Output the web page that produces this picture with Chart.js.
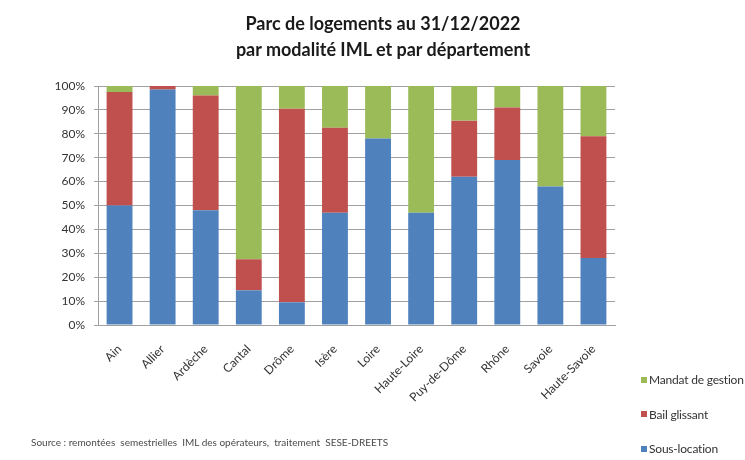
<!DOCTYPE html>
<html lang="fr">
<head>
<meta charset="utf-8">
<title>Parc de logements IML</title>
<script src="https://cdn.jsdelivr.net/npm/chart.js@4/dist/chart.umd.min.js"></script>
<style>
  html, body { margin: 0; padding: 0; background: #fff; }
  #wrap { position: relative; width: 745px; height: 460px; overflow: hidden; font-family: Lato, "Open Sans", sans-serif; }
  #iml-chart { position: absolute; left: 0; top: 0; }
  #title {
    position: absolute; left: 223px; width: 320px; top: 10px;
    text-align: center; font-weight: bold; font-size: 18px; line-height: 26px; color: #1a1a1a;
  }
  #legend { position: absolute; left: 641px; top: 372px; margin: 0; padding: 0; list-style: none; }
  #legend li { display: flex; align-items: center; height: 15px; margin-bottom: 19.5px; font-size: 12px; color: #333; white-space: nowrap; letter-spacing: -0.2px; }
  #legend span.box { display: inline-block; width: 6px; height: 6px; margin-right: 2px; }
  #source { position: absolute; left: 31px; top: 436px; font-size: 10px; color: #4a4a4a; white-space: pre; }
</style>
</head>
<body>
<div id="wrap">
  <canvas id="iml-chart" width="745" height="460"></canvas>
  <div id="title">Parc de logements au 31/12/2022<br>par modalité IML et par département</div>
  <ul id="legend"></ul>
  <div id="source">Source : remontées  semestrielles  IML des opérateurs,  traitement  SESE-DREETS</div>
</div>
<script>
const departements = ['Ain', 'Allier', 'Ardèche', 'Cantal', 'Drôme', 'Isère', 'Loire',
  'Haute-Loire', 'Puy-de-Dôme', 'Rhône', 'Savoie', 'Haute-Savoie'];

// shares in % of each departement's stock
const sousLocation   = [50, 98.5, 48, 14.5, 9.5, 47, 78, 47, 62, 69, 58, 28];
const bailGlissant   = [47.5, 1.5, 48, 13, 81, 35.5, 0, 0, 23.5, 22, 0, 51];
const mandatGestion  = [2.5, 0, 4, 72.5, 9.5, 17.5, 22, 53, 14.5, 9, 42, 21];

const yTicks = [0, 10, 20, 30, 40, 50, 60, 70, 80, 90, 100];

const tickFont = { family: 'Lato, "Open Sans", sans-serif', size: 12 };

const chart = new Chart(document.getElementById('iml-chart'), {
  type: 'bar',
  data: {
    labels: departements,
    datasets: [
      { label: 'Sous-location', data: sousLocation, backgroundColor: '#4f81bd' },
      { label: 'Bail glissant', data: bailGlissant, backgroundColor: '#c0504d' },
      { label: 'Mandat de gestion', data: mandatGestion, backgroundColor: '#9bbb59' }
    ]
  },
  options: {
    responsive: false,
    animation: false,
    layout: { padding: { top: 86, right: 130, bottom: 0, left: 0 } },
    datasets: { bar: { categoryPercentage: 1, barPercentage: 0.6 } },
    plugins: {
      legend: { display: false },
      title: { display: false },
      tooltip: { enabled: false }
    },
    scales: {
      x: {
        stacked: true,
        grid: { display: false },
        border: { color: '#a0a0a0' },
        ticks: { font: tickFont, color: '#333', padding: 9, minRotation: 45, maxRotation: 45, autoSkip: false },
        afterFit: scale => { scale.height = 135; }
      },
      y: {
        stacked: true,
        min: 0,
        max: 100,
        afterBuildTicks: scale => { scale.ticks = yTicks.map(v => ({ value: v })); },
        grid: { color: '#a0a0a0', tickLength: 4 },
        border: { color: '#a0a0a0' },
        ticks: { font: tickFont, color: '#333', padding: 9, callback: v => v + '%' },
        afterFit: scale => { scale.width = 98; }
      }
    }
  }
});

// legend list, top item = last dataset, as the stack reads
const legendList = document.getElementById('legend');
chart.data.datasets.slice().reverse().forEach(ds => {
  const li = document.createElement('li');
  li.innerHTML = `<span class="box" style="background:${ds.backgroundColor}"></span>${ds.label}`;
  legendList.appendChild(li);
});
</script>
</body>
</html>
